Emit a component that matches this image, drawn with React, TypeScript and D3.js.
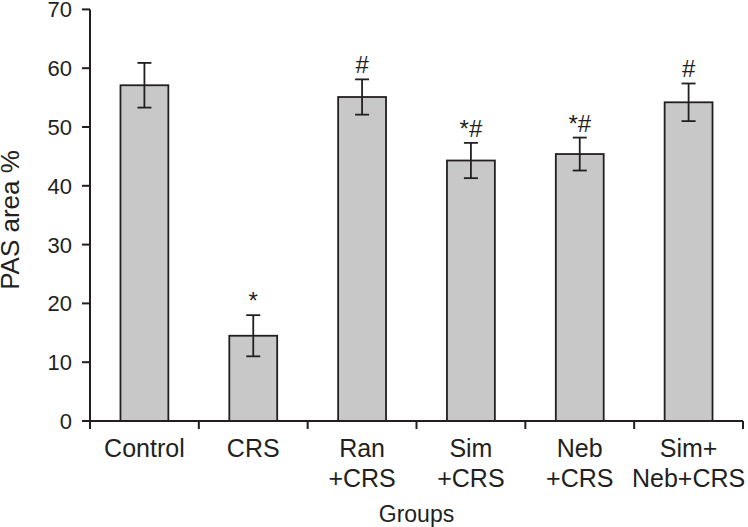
import React from "react";
import * as d3 from "d3";

const categories = ["Control", "CRS", "Ran\n+CRS", "Sim\n+CRS", "Neb\n+CRS", "Sim+\nNeb+CRS"];
const means = [57.1, 14.5, 55.1, 44.3, 45.4, 54.2];
const errors = [3.8, 3.5, 3.0, 3.0, 2.8, 3.2];
const marks = ["", "*", "#", "*#", "*#", "#"];
const yTicks = [0, 10, 20, 30, 40, 50, 60, 70];

const W = 748;
const H = 527;
const left = 90;
const right = 743;
const top = 9.4;
const bottom = 421;
const ink = "#231f20";
const font = "'Liberation Sans', Arial, sans-serif";

export default function App() {
  const x = d3.scaleBand<string>().domain(categories).range([left, right]).padding(0);
  const y = d3.scaleLinear().domain([0, 70]).range([bottom, top]);
  const bw = x.bandwidth() * 0.44;
  const boundaries = [...categories.map((c) => x(c) as number), right];

  return (
    <div style={{ position: "absolute", left: 0, top: 0 }}>
      <svg width={W} height={H} style={{ display: "block", background: "#fff" }}>
        {/* bars */}
        {categories.map((c, i) => {
          const cx = (x(c) as number) + x.bandwidth() / 2;
          return (
            <rect
              key={"b" + i}
              x={cx - bw / 2}
              y={y(means[i])}
              width={bw}
              height={y(0) - y(means[i])}
              fill="#c8c8c8"
              stroke={ink}
              strokeWidth={1.8}
            />
          );
        })}
        {/* error bars */}
        {categories.map((c, i) => {
          const cx = (x(c) as number) + x.bandwidth() / 2;
          const hi = y(means[i] + errors[i]);
          const lo = y(means[i] - errors[i]);
          return (
            <g key={"e" + i} stroke={ink} strokeWidth={1.8}>
              <line x1={cx} x2={cx} y1={hi} y2={lo} />
              <line x1={cx - 7} x2={cx + 7} y1={hi} y2={hi} />
              <line x1={cx - 7} x2={cx + 7} y1={lo} y2={lo} />
            </g>
          );
        })}
        {/* significance marks */}
        {categories.map((c, i) => {
          const cx = (x(c) as number) + x.bandwidth() / 2;
          const hi = y(means[i] + errors[i]);
          return (
            <text
              key={"m" + i}
              x={cx}
              y={hi - 6}
              textAnchor="middle"
              fontFamily={font}
              fontSize={24}
              fill={ink}
            >
              {marks[i]}
            </text>
          );
        })}
        {/* y axis */}
        <line x1={left} x2={left} y1={top} y2={bottom} stroke={ink} strokeWidth={2} />
        {yTicks.map((t) => (
          <g key={"yt" + t}>
            <line x1={left - 8} x2={left} y1={y(t)} y2={y(t)} stroke={ink} strokeWidth={2} />
            <text
              x={left - 18}
              y={y(t)}
              dy="0.36em"
              textAnchor="end"
              fontFamily={font}
              fontSize={22}
              fill={ink}
            >
              {t}
            </text>
          </g>
        ))}
        {/* x axis */}
        <line x1={left} x2={right} y1={bottom} y2={bottom} stroke={ink} strokeWidth={2} />
        {boundaries.map((bx, i) => (
          <line key={"xt" + i} x1={bx} x2={bx} y1={bottom} y2={bottom + 8} stroke={ink} strokeWidth={2} />
        ))}
        {categories.map((c, i) => {
          const cx = (x(c) as number) + x.bandwidth() / 2;
          const lines = c.split("\n");
          return (
            <text key={"xl" + i} textAnchor="middle" fontFamily={font} fontSize={25} fill={ink}>
              {lines.map((l, j) => (
                <tspan key={j} x={cx} y={457 + j * 30}>
                  {l}
                </tspan>
              ))}
            </text>
          );
        })}
        <text
          x={(left + right) / 2}
          y={522}
          textAnchor="middle"
          fontFamily={font}
          fontSize={23}
          fill={ink}
        >
          Groups
        </text>
        <text
          transform={`translate(19, ${220}) rotate(-90)`}
          textAnchor="middle"
          fontFamily={font}
          fontSize={26}
          fill={ink}
        >
          PAS area %
        </text>
      </svg>
    </div>
  );
}
